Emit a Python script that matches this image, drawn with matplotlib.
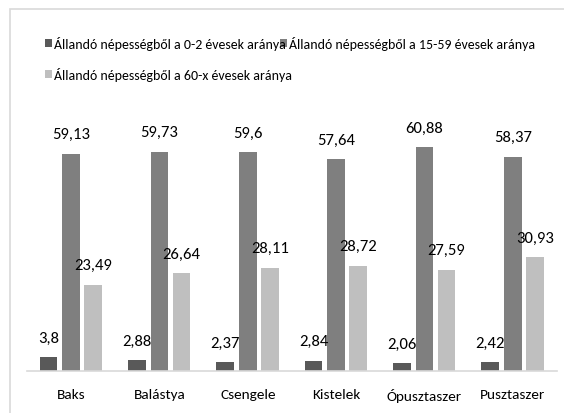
import matplotlib
matplotlib.use("Agg")
import matplotlib.pyplot as plt
from matplotlib.patches import Rectangle
import numpy as np

categories = ["Baks", "Balástya", "Csengele", "Kistelek", "Ópusztaszer", "Pusztaszer"]
series_names = ["Állandó népességből a 0-2 évesek aránya",
                "Állandó népességből a 15-59 évesek aránya",
                "Állandó népességből a 60-x évesek aránya"]
v_0_2 = [3.8, 2.88, 2.37, 2.84, 2.06, 2.42]
v_15_59 = [59.13, 59.73, 59.6, 57.64, 60.88, 58.37]
v_60x = [23.49, 26.64, 28.11, 28.72, 27.59, 30.93]
labels_0_2 = ["3,8", "2,88", "2,37", "2,84", "2,06", "2,42"]
labels_15_59 = ["59,13", "59,73", "59,6", "57,64", "60,88", "58,37"]
labels_60x = ["23,49", "26,64", "28,11", "28,72", "27,59", "30,93"]

colors = ["#595959", "#7f7f7f", "#bfbfbf"]
plt.rcParams['font.family'] = ['Carlito', 'DejaVu Sans']

W, H = 564, 414
fig = plt.figure(figsize=(W/100, H/100), dpi=100)

# border
fig.patches.append(Rectangle((10/W, -0.1), 1.2, (H-10)/H + 0.1, transform=fig.transFigure,
                             fill=False, edgecolor="#d9d9d9", linewidth=1.2))

ax = fig.add_axes([27/W, 42/H, 530/W, 242/H])
x = np.arange(len(categories))
bw = 0.2
offs = [-0.255, 0.0, 0.25]
data = [v_0_2, v_15_59, v_60x]
labs = [labels_0_2, labels_15_59, labels_60x]
for i in range(3):
    ax.bar(x + offs[i], data[i], width=bw, color=colors[i], zorder=2)
    for xi, v, t in zip(x + offs[i], data[i], labs[i]):
        ax.annotate(t, (xi, v), xytext=(0, 9), textcoords="offset points",
                    ha="center", va="bottom", fontsize=12, color="#000000")

ax.set_xlim(-0.5, len(categories) - 0.5)
ax.set_ylim(0, 65.9)
ax.set_yticks([])
ax.set_xticks(x)
ax.set_xticklabels(categories, fontsize=11)
ax.tick_params(axis="x", length=0, pad=12)
for s in ["top", "right", "left"]:
    ax.spines[s].set_visible(False)
ax.spines["bottom"].set_color("#d9d9d9")
ax.spines["bottom"].set_linewidth(1.2)

# legend (manual)
leg_pos = [(45, 44), (280, 44), (45, 75)]
for (lx, ly), c, name in zip(leg_pos, colors, series_names):
    fig.patches.append(Rectangle((lx/W, (H-ly-4)/H), 7/W, 8/H, transform=fig.transFigure,
                                 facecolor=c, edgecolor="none"))
    fig.text((lx+9)/W, (H-ly)/H, name, fontsize=10, va="center", ha="left")

fig.savefig("out.png", dpi=100)
